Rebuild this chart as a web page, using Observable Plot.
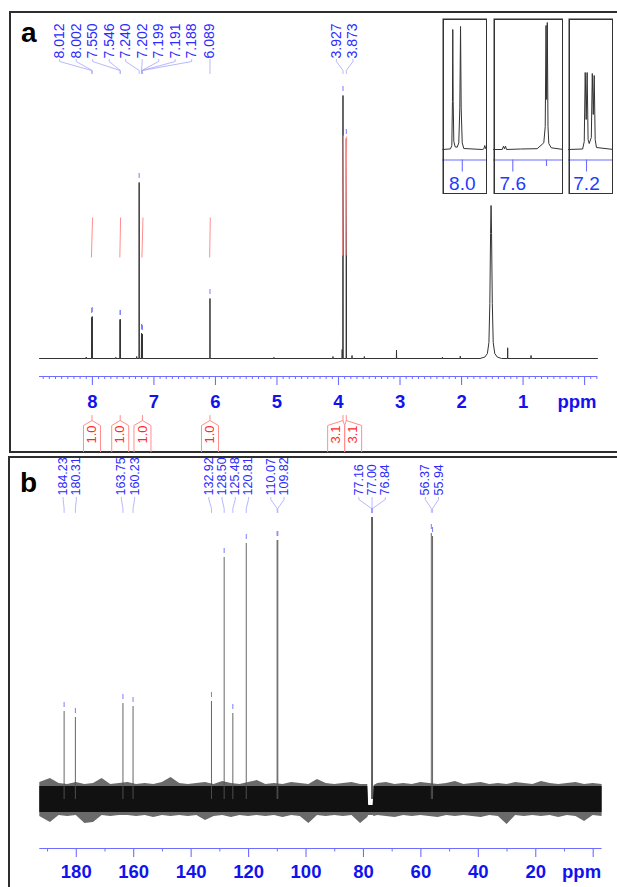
<!DOCTYPE html>
<html>
<head>
<meta charset="utf-8">
<script src="https://cdn.jsdelivr.net/npm/d3@7"></script>
<script src="https://cdn.jsdelivr.net/npm/@observablehq/plot@0.6"></script>
<style>
html, body { margin: 0; padding: 0; background: #fff; }
#page { position: relative; width: 617px; height: 887px; overflow: hidden; background: #fff; }
.frame { position: absolute; border: 2px solid #2e2e2e; box-sizing: border-box; }
.holder { position: absolute; }
.holder svg { display: block; max-width: none; }
.plabel { position: absolute; font: bold 28px 'Liberation Sans', Arial, sans-serif; line-height: 28px; color: #000; }
</style>
</head>
<body>
<div id="page">
  <div class="frame" style="left:9px;top:11px;width:640px;height:442px;"></div>
  <div class="frame" style="left:8px;top:456px;width:640px;height:500px;"></div>
  <div class="plabel" style="left:21px;top:19px;">a</div>
  <div class="plabel" style="left:20px;top:469px;">b</div>
</div>
<script>
// ================= DATA =================
// Panel a : 1H NMR (intensity in arbitrary units)
const h1LabelPpm    = [8.012, 8.002, 7.550, 7.546, 7.240, 7.202, 7.199, 7.191, 7.188, 6.089, 3.927, 3.873];
const h1LabelHeight = [41, 42, 39, 39, 176, 25, 25, 24, 24, 60, 263, 220];
const h1MinorPpm    = [8.10, 7.62, 7.28, 5.05, 4.09, 3.94, 3.78, 3.58, 3.057, 2.31, 2.02, 1.25, 0.87];
const h1MinorHeight = [1.5, 1.2, 2, 1.2, 2, 9, 3, 2, 8.3, 1.5, 2.5, 10.7, 3];
const h1WaterPpm    = [1.70, 1.62, 1.58, 1.555, 1.54, 1.528, 1.52, 1.512, 1.50, 1.485, 1.46, 1.42, 1.35];
const h1WaterHeight = [0, 1.5, 5, 16, 55, 125, 153, 125, 55, 16, 5, 1.5, 0];
const h1Ticks       = [8, 7, 6, 5, 4, 3, 2, 1, 0];
const h1TickLabels  = ["8", "7", "6", "5", "4", "3", "2", "1", ""];
const h1IntFrom     = [8.016, 7.554, 7.195, 6.094, 3.932, 3.878];
const h1IntTo       = [7.998, 7.542, 7.178, 6.084, 3.922, 3.868];
const h1IntLow      = [101, 101, 101, 101, 103, 103];
const h1IntHigh     = [141, 141, 141, 141, 223, 222];
const h1IntLabels   = ["1.0", "1.0", "1.0", "1.0", "3.1", "3.1"];

// Insets (zoomed 1H regions)
const inset1Ppm = [8.0244, 8.0148, 8.0131, 8.0123, 8.0119, 8.0114, 8.0106, 8.0089, 8.0064, 8.0044, 8.0031, 8.0022, 8.0014, 8.0001, 7.9981, 7.9751, 7.9731, 7.9719, 7.9706, 7.9689];
const inset1Int = [0, 0.6, 4, 48, 120, 48, 8, 2.6, 2.3, 6.6, 41.6, 123, 41.6, 6.6, 1, 0, 0.6, 4, 0.6, 0];
const inset2Ppm = [7.6286, 7.6157, 7.6138, 7.6123, 7.6108, 7.6093, 7.5886, 7.5638, 7.5540, 7.5519, 7.5507, 7.5498, 7.5488, 7.5478, 7.5466, 7.5430, 7.5248];
const inset2Int = [0, 0, 3.3, 0.7, 3.3, 0, 0.5, 0.8, 6.7, 23, 124, 50, 127, 23, 6, 1.7, 0];
const inset3Ppm = [7.2280, 7.2060, 7.2035, 7.2020, 7.2005, 7.1990, 7.1975, 7.1958, 7.1925, 7.1910, 7.1895, 7.1880, 7.1865, 7.1845, 7.1580];
const inset3Int = [0, 0.5, 8, 77, 30, 77, 10, 6, 12, 76, 35, 74, 10, 2, 0];
const inset1Ticks = [8.0], inset1TickLabels = ["8.0"], inset1Minor = [];
const inset2Ticks = [7.6], inset2TickLabels = ["7.6"], inset2Minor = [7.55];
const inset3Ticks = [7.2], inset3TickLabels = ["7.2"], inset3Minor = [];

// Panel b : 13C NMR
const c13LabelPpm = [184.23, 180.31, 163.75, 160.23, 132.92, 128.50, 125.48, 120.81, 110.07, 109.82, 77.16, 77.00, 76.84, 56.37, 55.94];
const c13Height   = [88, 82, 96, 93, 98, 242, 86, 256, 259, 259, 282, 282, 282, 266, 263];
const c13Ticks      = [180, 160, 140, 120, 100, 80, 60, 40, 20, 0];
const c13TickLabels = ["180", "160", "140", "120", "100", "80", "60", "40", "20", ""];
// noise envelope
const noisePpm    = [192.7, 189, 186, 183, 180, 177, 174, 171, 168, 165,
                     162, 159, 156, 153, 150, 147, 144, 141, 138, 135,
                     132, 129, 126, 123, 120, 117, 114, 111, 108, 105,
                     102, 99, 96, 93, 90, 87, 84, 81,
                     78.5, 78.2, 76.6, 76.3,
                     75, 72, 69, 66, 63, 60, 57, 54, 51, 48,
                     45, 42, 39, 36, 33, 30, 27, 24, 21, 18,
                     15, 12, 9, 6, 3, 0, -3.1];
const noiseTop    = [17, 21, 16, 15, 17, 15, 16, 21, 15, 16,
                     17, 15, 16, 15, 17, 22, 16, 15, 16, 17,
                     15, 18, 16, 15, 17, 19, 15, 16, 15, 17,
                     16, 15, 20, 16, 15, 16, 17, 15,
                     15, -6, -6, 14,
                     16, 17, 15, 16, 15, 17, 16, 15, 16, 18,
                     15, 16, 17, 15, 16, 15, 17, 16, 15, 18,
                     16, 15, 16, 17, 15, 16, 15];
const noiseBottom = [-17, -23, -16, -17, -16, -24, -23, -16, -17, -16,
                     -16, -17, -16, -18, -16, -17, -16, -17, -16, -21,
                     -17, -16, -18, -16, -17, -16, -17, -16, -18, -16,
                     -17, -24, -16, -17, -16, -17, -16, -24,
                     -18, -16, -16, -17,
                     -16, -17, -18, -16, -17, -16, -17, -18, -16, -17,
                     -16, -17, -18, -16, -17, -25, -16, -17, -16, -17,
                     -16, -18, -16, -17, -22, -16, -17];
const unitLabel = "ppm";

// ================= STYLE =================
const FONT = "'Liberation Sans', Arial, Helvetica, sans-serif";
const NARROW = "'Liberation Sans Narrow', 'Arial Narrow', 'Liberation Sans', sans-serif";
const LABEL_BLUE = "#2b2bff";
const LINK_BLUE = "#a4a4ff";
const MARK_BLUE = "#7c7cff";
const AXIS_BLUE = "#6d6dff";
const TICK_TEXT = "#1212f0";
const INSET_BLUE = "#1d3bff";
const INT_RED = "#ff8e8e";
const TAG_TEXT = "#ff2a2a";

const page = document.getElementById("page");
function place(el, left, top) {
  const d = document.createElement("div");
  d.className = "holder";
  d.style.left = left + "px";
  d.style.top = top + "px";
  d.appendChild(el);
  page.appendChild(d);
}

// Spread overlapping labels around cluster centres (gap in ppm units)
function spread(ppms, gap) {
  const idx = ppms.map((p, i) => i).sort((a, b) => ppms[b] - ppms[a]);
  let cl = idx.map(i => ({items: [i], sum: -ppms[i]}));
  let merged = true;
  while (merged) {
    merged = false;
    for (let k = 0; k < cl.length - 1; k++) {
      const a = cl[k], b = cl[k + 1];
      const aEnd = a.sum / a.items.length + (a.items.length - 1) * gap / 2;
      const bStart = b.sum / b.items.length - (b.items.length - 1) * gap / 2;
      if (bStart - aEnd < gap - 1e-9) {
        cl.splice(k, 2, {items: a.items.concat(b.items), sum: a.sum + b.sum});
        merged = true;
        break;
      }
    }
  }
  const out = new Array(ppms.length);
  for (const c of cl) {
    const n = c.items.length, m = c.sum / n;
    c.items.forEach((i, j) => { out[i] = -(m - (n - 1) * gap / 2 + j * gap); });
  }
  return out;
}

// ================= PANEL a =================
{
  const xDom = [8.86, -0.21], xRange = [39, 597];
  const pxPerPpm = (xRange[1] - xRange[0]) / (xDom[0] - xDom[1]);
  const peaks = h1LabelPpm.map((p, i) => ({ppm: p, h: h1LabelHeight[i], label: p.toFixed(3)}));
  const lx = spread(h1LabelPpm, 16.5 / pxPerPpm);
  peaks.forEach((d, i) => d.lx = lx[i]);
  const conn = peaks.flatMap((d, i) => [
    {id: i, x: d.lx, y: 299}, {id: i, x: d.lx, y: 297}, {id: i, x: d.ppm, y: 288}, {id: i, x: d.ppm, y: 285}
  ]);
  const spec = [{ppm: xDom[0], h: 0}, {ppm: xDom[1], h: 0}];
  [...h1LabelPpm.map((p, i) => [p, h1LabelHeight[i]]), ...h1MinorPpm.map((p, i) => [p, h1MinorHeight[i]])]
    .forEach(([p, h]) => spec.push({ppm: p + 0.0025, h: 0}, {ppm: p, h}, {ppm: p - 0.0025, h: 0}));
  h1WaterPpm.forEach((p, i) => spec.push({ppm: p, h: h1WaterHeight[i]}));
  spec.sort((a, b) => b.ppm - a.ppm);

  const ints = h1IntLabels.map((t, i) => ({from: h1IntFrom[i], to: h1IntTo[i], low: h1IntLow[i], high: h1IntHigh[i], label: t, c: (h1IntFrom[i] + h1IntTo[i]) / 2}));
  const tx = spread(ints.map(d => d.c), 17 / pxPerPpm);
  const hw = 8.5 / pxPerPpm;
  ints.forEach((d, i) => d.bx = tx[i]);
  const tags = ints.flatMap((d, i) => [
    {id: "l" + i, x: d.c, y: -57}, {id: "l" + i, x: d.c, y: -62}, {id: "l" + i, x: d.bx + hw, y: -67}, {id: "l" + i, x: d.bx + hw, y: -100},
    {id: "r" + i, x: d.c, y: -62}, {id: "r" + i, x: d.bx - hw, y: -67}, {id: "r" + i, x: d.bx - hw, y: -100}
  ]);
  const minor = d3.range(-2, 89).map(i => i / 10).filter(v => Math.abs(v - Math.round(v)) > 1e-6);

  const svg = Plot.plot({
    width: 617, height: 452, margin: 0,
    style: {background: "transparent", overflow: "hidden"},
    x: {domain: xDom, range: xRange, axis: null},
    y: {domain: [0, 358], range: [358, 0], axis: null},
    marks: [
      Plot.line(spec, {x: "ppm", y: "h", stroke: "#333", strokeWidth: 1}),
      Plot.link(ints, {x1: "from", x2: "to", y1: "low", y2: "high", stroke: INT_RED, strokeWidth: 1}),
      Plot.ruleX(peaks, {x: "ppm", y1: d => d.h + 4, y2: d => d.h + 9, stroke: MARK_BLUE, strokeWidth: 1}),
      Plot.line(conn, {x: "x", y: "y", z: "id", stroke: LINK_BLUE, strokeWidth: 0.8}),
      Plot.text(peaks, {x: "lx", y: 300, text: "label", rotate: -90, textAnchor: "start", lineAnchor: "middle", fontSize: 14, fill: LABEL_BLUE, fontFamily: FONT}),
      // axis
      Plot.ruleY([-18], {x1: xDom[0], x2: xDom[1], stroke: AXIS_BLUE, strokeWidth: 1.2}),
      Plot.ruleX(h1Ticks, {y1: -18, y2: -27, stroke: AXIS_BLUE, strokeWidth: 1.1}),
      Plot.ruleX(minor, {y1: -18, y2: -21, stroke: AXIS_BLUE, strokeWidth: 1}),
      Plot.text(h1Ticks, {x: d => d, y: -44, text: (d, i) => h1TickLabels[i], fontSize: 18.5, fontWeight: "bold", fill: TICK_TEXT, fontFamily: FONT}),
      Plot.text([unitLabel], {x: xDom[1], y: -44, text: d => d, textAnchor: "end", dx: -1, fontSize: 18.5, fontWeight: "bold", fill: TICK_TEXT, fontFamily: FONT}),
      // integral tags
      Plot.line(tags, {x: "x", y: "y", z: "id", stroke: INT_RED, strokeWidth: 1}),
      Plot.text(ints, {x: "bx", y: -76, text: "label", rotate: -90, fontSize: 13, fill: TAG_TEXT, fontFamily: FONT})
    ]
  });
  place(svg, 0, 0);
}

// ================= INSETS =================
function inset(ppm, ints, domain, left, width, major, majorLabels, minorTicks) {
  const data = ppm.map((p, i) => ({ppm: p, h: ints[i]}));
  const svg = Plot.plot({
    width, height: 176, margin: 0,
    style: {background: "#fff", overflow: "hidden"},
    x: {domain, range: [0, width], axis: null},
    y: {domain: [0, 131], range: [131, 0], axis: null},
    marks: [
      Plot.ruleY([-10.5], {stroke: AXIS_BLUE, strokeWidth: 1.2}),
      Plot.ruleX(major, {y1: -10.5, y2: -22.5, stroke: AXIS_BLUE, strokeWidth: 1.1}),
      Plot.ruleX(minorTicks, {y1: -10.5, y2: -17, stroke: AXIS_BLUE, strokeWidth: 1.1}),
      Plot.text(major, {x: d => d, y: -34.7, text: (d, i) => majorLabels[i], fontSize: 19, fill: INSET_BLUE, fontFamily: FONT}),
      Plot.line(data, {x: "ppm", y: "h", stroke: "#333", strokeWidth: 1}),
      Plot.frame({stroke: "#333", strokeWidth: 1.5, inset: 0.75})
    ]
  });
  place(svg, left, 18);
}
inset(inset1Ppm, inset1Int, [8.02475, 7.9685], 442, 45, inset1Ticks, inset1TickLabels, inset1Minor);
inset(inset2Ppm, inset2Int, [7.62864, 7.52478], 493, 70, inset2Ticks, inset2TickLabels, inset2Minor);
inset(inset3Ppm, inset3Int, [7.22799, 7.15801], 568, 45, inset3Ticks, inset3TickLabels, inset3Minor);

// ================= PANEL b =================
{
  const xDom = [192.7, -3.1], xRange = [39.3, 601.6];
  const pxPerPpm = (xRange[1] - xRange[0]) / (xDom[0] - xDom[1]);
  const peaks = c13LabelPpm.map((p, i) => ({ppm: p, h: c13Height[i], label: p.toFixed(2)}));
  const lx = spread(c13LabelPpm, 13.2 / pxPerPpm);
  peaks.forEach((d, i) => d.lx = lx[i]);
  const conn = peaks.flatMap((d, i) => [
    {id: i, x: d.lx, y: 302}, {id: i, x: d.lx, y: 300}, {id: i, x: d.ppm, y: 291}, {id: i, x: d.ppm, y: 287}
  ]);
  const noise = noisePpm.map((p, i) => ({ppm: p, top: noiseTop[i], bottom: noiseBottom[i]}));
  const minor = d3.range(10, 200, 20);

  const svg = Plot.plot({
    width: 617, height: 432, margin: 0,
    style: {background: "transparent", overflow: "hidden"},
    x: {domain: xDom, range: xRange, axis: null},
    y: {domain: [0, 344], range: [344, 0], axis: null},
    marks: [
      Plot.areaY(noise, {x: "ppm", y1: "bottom", y2: "top", fill: "#6a6a6a"}),
      Plot.areaY(noise, {x: "ppm", y1: d => Math.max(d.bottom, -13), y2: d => Math.min(d.top, 13), fill: "#111"}),
      Plot.ruleX(peaks, {x: "ppm", y1: 0, y2: "h", stroke: "#555", strokeWidth: 0.9}),
      Plot.ruleX(peaks, {x: "ppm", y1: d => d.h + 4, y2: d => d.h + 9, stroke: MARK_BLUE, strokeWidth: 1}),
      Plot.line(conn, {x: "x", y: "y", z: "id", stroke: LINK_BLUE, strokeWidth: 0.8}),
      Plot.text(peaks, {x: "lx", y: 304, text: "label", rotate: -90, textAnchor: "start", lineAnchor: "middle", fontSize: 12.5, fill: LABEL_BLUE, fontFamily: NARROW}),
      Plot.ruleY([-49], {x1: xDom[0], x2: xDom[1], stroke: AXIS_BLUE, strokeWidth: 1.2}),
      Plot.ruleX(c13Ticks, {y1: -49, y2: -58, stroke: AXIS_BLUE, strokeWidth: 1.1}),
      Plot.ruleX(minor, {y1: -49, y2: -52.5, stroke: AXIS_BLUE, strokeWidth: 1}),
      Plot.text(c13Ticks, {x: d => d, y: -73, text: (d, i) => c13TickLabels[i], fontSize: 18.5, fontWeight: "bold", fill: TICK_TEXT, fontFamily: FONT}),
      Plot.text([unitLabel], {x: xDom[1], y: -73, text: d => d, textAnchor: "end", dx: -1, fontSize: 18.5, fontWeight: "bold", fill: TICK_TEXT, fontFamily: FONT})
    ]
  });
  place(svg, 0, 455);
}
</script>
</body>
</html>
